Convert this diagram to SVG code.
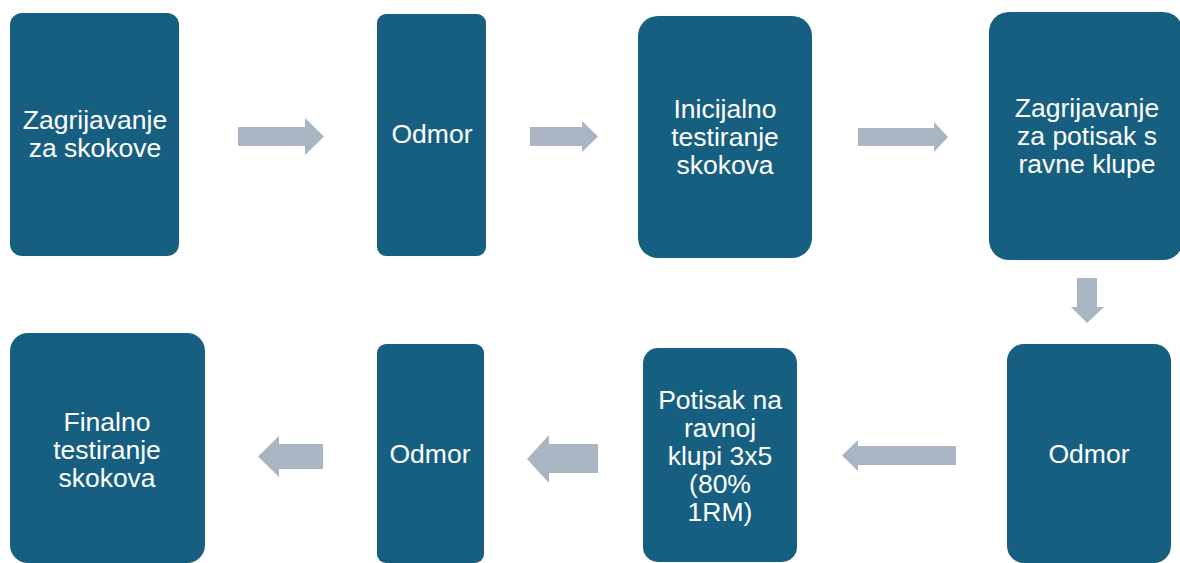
<svg xmlns="http://www.w3.org/2000/svg" width="1180" height="563" viewBox="0 0 1180 563">
<style>
.box{fill:#175F81}
.arr{fill:#A9B5C2}
.t{font-family:"Liberation Sans",Arial,sans-serif;font-size:26.5px;fill:#FFFFFF;text-anchor:middle}
</style>
<rect width="1180" height="563" fill="#FFFFFF"/>
<g id="connectors">
<polygon class="arr" points="238,127 305,127 305,118 324,136.5 305,155 305,146 238,146"/>
<polygon class="arr" points="530,127 582,127 582,121 598,136.5 582,152 582,146 530,146"/>
<polygon class="arr" points="858,128 934,128 934,122 948,137 934,152 934,146 858,146"/>
<polygon class="arr" points="1077,278 1097,278 1097,307 1104,307 1087,323 1071,307 1077,307"/>
<polygon class="arr" points="956,446 858,446 858,440 842,455.5 858,471 858,465 956,465"/>
<polygon class="arr" points="598,444 549,444 549,435 527,459 549,483 549,473 598,473"/>
<polygon class="arr" points="323,444 279,444 279,436 258,456.5 279,477 279,469 323,469"/>
</g>
<g id="n1">
<rect class="box" x="10" y="13" width="169" height="243" rx="12"/>
<text class="t" x="95" y="129">Zagrijavanje</text>
<text class="t" x="95" y="157">za skokove</text>
</g>
<g id="n2">
<rect class="box" x="377" y="14" width="109" height="242" rx="9"/>
<text class="t" x="432" y="143">Odmor</text>
</g>
<g id="n3">
<rect class="box" x="638" y="16" width="174" height="242" rx="20"/>
<text class="t" x="725" y="118">Inicijalno</text>
<text class="t" x="725" y="146">testiranje</text>
<text class="t" x="725" y="174">skokova</text>
</g>
<g id="n4">
<rect class="box" x="989" y="12" width="194" height="248" rx="20"/>
<text class="t" x="1087" y="117">Zagrijavanje</text>
<text class="t" x="1087" y="145">za potisak s</text>
<text class="t" x="1087" y="173">ravne klupe</text>
</g>
<g id="n5">
<rect class="box" x="1007" y="344" width="164" height="219" rx="17"/>
<text class="t" x="1089" y="463">Odmor</text>
</g>
<g id="n6">
<rect class="box" x="643" y="348" width="154" height="214" rx="15"/>
<text class="t" x="720" y="409">Potisak na</text>
<text class="t" x="720" y="437">ravnoj</text>
<text class="t" x="720" y="465">klupi 3x5</text>
<text class="t" x="720" y="493">(80%</text>
<text class="t" x="720" y="521">1RM)</text>
</g>
<g id="n7">
<rect class="box" x="377" y="344" width="107" height="219" rx="9"/>
<text class="t" x="430" y="463">Odmor</text>
</g>
<g id="n8">
<rect class="box" x="10" y="333" width="195" height="230" rx="18"/>
<text class="t" x="107" y="431">Finalno</text>
<text class="t" x="107" y="459">testiranje</text>
<text class="t" x="107" y="487">skokova</text>
</g>
</svg>
